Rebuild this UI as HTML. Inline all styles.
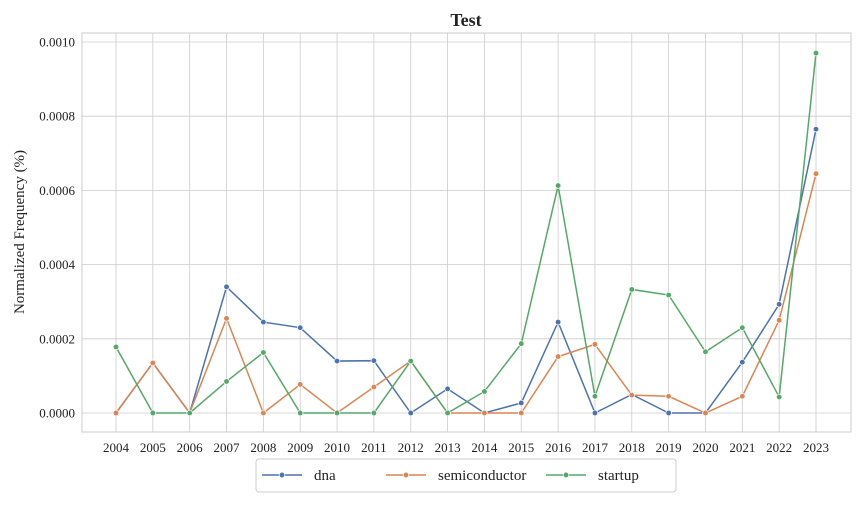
<!DOCTYPE html>
<html><head><meta charset="utf-8"><style>
body{margin:0;background:#fff;}
svg text{font-family:"Liberation Serif",serif;fill:#222;}
</style></head><body>
<svg id="c" width="864" height="504"></svg>
<script>
const years=[2004,2005,2006,2007,2008,2009,2010,2011,2012,2013,2014,2015,2016,2017,2018,2019,2020,2021,2022,2023];
const dna=[0,0.000135,0,0.00034,0.000245,0.00023,0.00014,0.000141,0,0.000065,0,0.000027,0.000245,0,0.00005,0,0,0.000137,0.000293,0.000765];
const semiconductor=[0,0.000135,0,0.000255,0,0.000077,0,0.00007,0.00014,0,0,0,0.000152,0.000185,0.000048,0.000045,0,0.000045,0.00025,0.000645];
const startup=[0.000178,0,0,0.000085,0.000163,0,0,0,0.00014,0,0.000058,0.000187,0.000613,0.000045,0.000333,0.000318,0.000165,0.00023,0.000043,0.00097];
const yTicks=[0,0.0002,0.0004,0.0006,0.0008,0.001];
const yTickLabels=["0.0000","0.0002","0.0004","0.0006","0.0008","0.0010"];
const seriesNames=["dna","semiconductor","startup"];
const colors=["#4c72b0","#dd8452","#55a868"];
const ns="http://www.w3.org/2000/svg";
const svg=document.getElementById('c');
const L=82,R=851,T=33,B=432;
const x=i=>116+(816-116)*i/(years.length-1);
const y=v=>413-v*(413-42)/0.001;
function mk(t,a,p){const e=document.createElementNS(ns,t);for(const k in a)e.setAttribute(k,a[k]);(p||svg).appendChild(e);return e;}
const bg=mk('rect',{x:L,y:T,width:R-L,height:B-T,fill:'#fff',stroke:'#ccc','stroke-width':1});


years.forEach((yr,i)=>{
  const g=mk('line',{x1:x(i),x2:x(i),y1:T,y2:B,stroke:'#ccc','stroke-width':0.8});
  
  
  const t=mk('text',{x:x(i),y:452,'text-anchor':'middle','font-size':13});
  t.textContent=yr;
  
  
});
yTicks.forEach((v,i)=>{
  const g=mk('line',{x1:L,x2:R,y1:y(v),y2:y(v),stroke:'#ccc','stroke-width':0.8});
  
  
  const t=mk('text',{x:75,y:y(v)+4.5,'text-anchor':'end','font-size':13});
  t.textContent=yTickLabels[i];
  
  
});
[dna,semiconductor,startup].forEach((s,k)=>{
  const p=mk('polyline',{points:s.map((v,i)=>x(i)+','+y(v)).join(' '),fill:'none',stroke:colors[k],'stroke-width':1.5});
  
  
  s.forEach((v,i)=>{
    const c=mk('circle',{cx:x(i),cy:y(v),r:2.8,fill:colors[k],stroke:'#fff','stroke-width':0.7});
    
    
  });
});
const title=mk('text',{x:466,y:26,'text-anchor':'middle','font-size':18,'font-weight':'bold'});
title.textContent='Test';


const yt=mk('text',{x:24,y:232,'text-anchor':'middle','font-size':15,transform:'rotate(-90 24 232)'});
yt.textContent='Normalized Frequency (%)';


const lg=mk('g',{});


mk('rect',{x:256,y:459,width:420,height:33,rx:3,fill:'#fff',stroke:'#ccc'},lg);
const lx=[262,386,546];
seriesNames.forEach((n,k)=>{
  const e=mk('g',{},lg);
  
  
  mk('line',{x1:lx[k],x2:lx[k]+40,y1:475,y2:475,stroke:colors[k],'stroke-width':1.5},e);
  mk('circle',{cx:lx[k]+20,cy:475,r:2.8,fill:colors[k],stroke:'#fff','stroke-width':0.7},e);
  const t=mk('text',{x:lx[k]+52,y:480,'font-size':15},e);
  t.textContent=n;
});
</script>
</body></html>
